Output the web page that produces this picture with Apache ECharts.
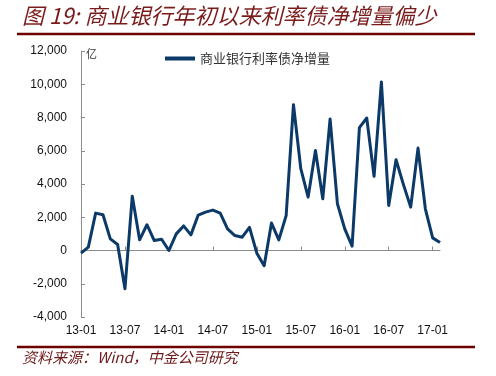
<!DOCTYPE html>
<html>
<head>
<meta charset="utf-8">
<script src="https://cdn.jsdelivr.net/npm/echarts@6/dist/echarts.min.js"></script>
<style>
html,body{margin:0;padding:0;background:#fff;}
#chart{width:496px;height:376px;}
</style>
</head>
<body>
<div id="chart"></div>
<script>
var titleText = '图 19: 商业银行年初以来利率债净增量偏少';
var sourceText = '资料来源：Wind，中金公司研究';
var seriesName = '商业银行利率债净增量';
var unitText = '亿';
var categories = [
  '13-01','13-02','13-03','13-04','13-05','13-06','13-07','13-08','13-09','13-10','13-11','13-12',
  '14-01','14-02','14-03','14-04','14-05','14-06','14-07','14-08','14-09','14-10','14-11','14-12',
  '15-01','15-02','15-03','15-04','15-05','15-06','15-07','15-08','15-09','15-10','15-11','15-12',
  '16-01','16-02','16-03','16-04','16-05','16-06','16-07','16-08','16-09','16-10','16-11','16-12',
  '17-01','17-02'
];
var values = [
  -160, 200, 2250, 2150, 700, 360, -2300, 3270, 640, 1550, 600, 680,
  0, 1000, 1480, 940, 2130, 2310, 2430, 2250, 1300, 900, 800, 1390,
  -160, -920, 1650, 640, 2100, 8770, 4920, 3210, 6020, 3110, 7910, 2810,
  1300, 260, 7390, 7970, 4460, 10140, 2710, 5460, 3980, 2610, 6160, 2510,
  760, 480
];
var yMin = -4000, yMax = 12000, yStep = 2000;

var chart = echarts.init(document.getElementById('chart'), null, {renderer: 'canvas'});
var font = "'Noto Sans CJK SC', 'Noto Sans', sans-serif";
var numFont = "'Liberation Sans', Arial, sans-serif";
chart.setOption({
  animation: false,
  backgroundColor: '#ffffff',
  grid: {left: 81, top: 51, right: 56, bottom: 59, containLabel: false},
  legend: {
    data: [{name: seriesName, icon: 'rect'}],
    left: 165, top: 52,
    padding: 0,
    itemWidth: 30, itemHeight: 4,
    textStyle: {fontFamily: font, fontSize: 13, color: '#333333'}
  },
  xAxis: [{
    type: 'category',
    data: categories,
    boundaryGap: false,
    axisLine: {onZero: true, lineStyle: {color: '#8c8c8c', width: 1}},
    axisTick: {show: true, inside: true, length: 4, interval: 5, lineStyle: {color: '#8c8c8c'}},
    axisLabel: {show: false},
    splitLine: {show: false}
  }, {
    type: 'category',
    data: categories,
    boundaryGap: false,
    position: 'bottom',
    axisLine: {show: false, onZero: false},
    axisTick: {show: false},
    axisLabel: {interval: 5, margin: 8, fontFamily: numFont, fontSize: 12, color: '#111111'},
    splitLine: {show: false}
  }],
  yAxis: {
    type: 'value',
    min: yMin, max: yMax, interval: yStep,
    axisLine: {show: true, onZero: false, lineStyle: {color: '#8c8c8c', width: 1}},
    axisTick: {show: true, inside: true, length: 4, lineStyle: {color: '#8c8c8c'}},
    axisLabel: {
      margin: 14, fontFamily: numFont, fontSize: 12, color: '#111111',
      formatter: function (v) { return v.toLocaleString('en-US'); }
    },
    splitLine: {show: false}
  },
  series: [{
    name: seriesName,
    type: 'line',
    xAxisIndex: 0,
    data: values,
    symbol: 'none',
    showSymbol: false,
    lineStyle: {color: '#0b3a68', width: 3, join: 'round'},
    itemStyle: {color: '#0b3a68'}
  }],
  graphic: [
    {type: 'text', left: 22, top: 5, style: {text: titleText, font: 'italic 22px ' + font, fill: '#7a1b1b'}},
    {type: 'line', shape: {x1: 17, y1: 34, x2: 475, y2: 34}, style: {stroke: '#6e0000', lineWidth: 2.5}},
    {type: 'text', left: 86, top: 48, style: {text: unitText, font: '11px ' + font, fill: '#333333'}},
    {type: 'line', shape: {x1: 17, y1: 347, x2: 475, y2: 347}, style: {stroke: '#6e0000', lineWidth: 2.5}},
    {type: 'text', left: 22, top: 350, style: {text: sourceText, font: 'italic 15px ' + font, fill: '#6e1a1a'}}
  ]
});
</script>
</body>
</html>
